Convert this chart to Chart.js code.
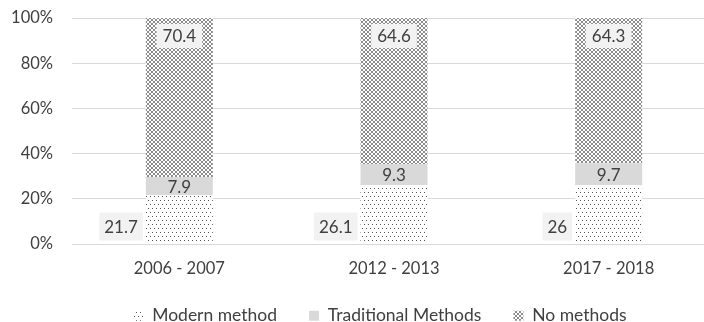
<!DOCTYPE html>
<html>
<head>
<meta charset="utf-8">
<script src="https://cdn.jsdelivr.net/npm/chart.js@4/dist/chart.umd.min.js"></script>
<style>
html,body{margin:0;padding:0;background:#fff;overflow:hidden;}
#wrap{position:absolute;left:0;top:0;width:760px;height:322px;}
</style>
</head>
<body>
<div id="wrap"><canvas id="c"></canvas></div>
<script>
const categories = ['2006 - 2007', '2012 - 2013', '2017 - 2018'];
const modernMethod = [21.7, 26.1, 26];
const traditionalMethods = [7.9, 9.3, 9.7];
const noMethods = [70.4, 64.6, 64.3];
const seriesNames = ['Modern method', 'Traditional Methods', 'No methods'];
const yTicks = [0, 20, 40, 60, 80, 100];

const FONT = 'Lato';
const TEXT = '#404040';

function makePattern(w, h, pts, color) {
  const c = document.createElement('canvas');
  c.width = w; c.height = h;
  const x = c.getContext('2d');
  x.fillStyle = '#ffffff';
  x.fillRect(0, 0, w, h);
  x.fillStyle = color;
  pts.forEach(p => x.fillRect(p[0], p[1], 1, 1));
  return document.getElementById('c').getContext('2d').createPattern(c, 'repeat');
}
const dotPattern = makePattern(4, 8, [[0,0],[2,4]], '#555555');
const crossPattern = makePattern(4, 4, [[0,0],[1,1],[2,2],[3,3],[3,0],[2,1],[1,2],[0,3]], '#8c8c8c');

const labelPlugin = {
  id: 'valueLabels',
  afterLayout(chart) {
    const lg = chart.legend;
    if (lg) { lg.left += 22; lg.right += 22; lg.top -= 18; lg.bottom = chart.height; }
  },
  afterDatasetsDraw(chart) {
    const ctx = chart.ctx;
    ctx.save();
    ctx.font = '17px ' + FONT;
    ctx.textAlign = 'center';
    ctx.textBaseline = 'middle';
    chart.data.datasets.forEach((ds, di) => {
      const meta = chart.getDatasetMeta(di);
      meta.data.forEach((el, i) => {
        const txt = String(ds.data[i]);
        const tw = ctx.measureText(txt).width;
        const p = el.getProps(['x', 'y', 'base', 'width'], true);
        let cx, cy, bw, bh = 28, bg = '#f2f2f2';
        if (di === 0) {
          bw = tw + 10;
          cx = p.x - p.width / 2 - 3 - bw / 2;
          cy = p.base - 17;
        } else if (di === 1) {
          cx = p.x; cy = (p.y + p.base) / 2; bw = 0;
        } else {
          bw = tw + 12;
          cx = p.x; cy = p.y + 18;
          bh = 24;
        }
        if (bw > 0) {
          ctx.fillStyle = bg;
          ctx.fillRect(cx - bw / 2, cy - bh / 2, bw, bh);
        }
        ctx.fillStyle = TEXT;
        ctx.fillText(txt, cx, cy + 1);
      });
    });
    ctx.restore();
  }
};

new Chart(document.getElementById('c'), {
  type: 'bar',
  data: {
    labels: categories,
    datasets: [
      { label: seriesNames[0], data: modernMethod, backgroundColor: dotPattern, borderWidth: 0 },
      { label: seriesNames[1], data: traditionalMethods, backgroundColor: '#d9d9d9', borderWidth: 0 },
      { label: seriesNames[2], data: noMethods, backgroundColor: crossPattern, borderWidth: 0 }
    ]
  },
  options: {
    responsive: true,
    maintainAspectRatio: false,
    animation: false,
    datasets: { bar: { categoryPercentage: 1, barPercentage: 0.312 } },
    layout: { padding: { top: 18, right: 44, left: 0, bottom: 0 } },
    plugins: {
      legend: {
        position: 'bottom',
        maxHeight: 29,
        labels: {
          font: { family: FONT, size: 17.5 },
          color: TEXT,
          boxWidth: 10,
          boxHeight: 10,
          padding: 32
        }
      },
      tooltip: { enabled: false }
    },
    scales: {
      x: {
        stacked: true,
        afterFit(s) { s.height = 49; s.paddingLeft = 0; s.paddingRight = 0; },
        grid: { display: false, drawTicks: false },
        border: { display: false },
        ticks: { font: { family: FONT, size: 16.5 }, color: TEXT, padding: 15 }
      },
      y: {
        stacked: true,
        min: 0, max: 100,
        afterFit(s) { s.width = 72; s.paddingTop = 0; s.paddingBottom = 0; },
        afterBuildTicks(s) { s.ticks = yTicks.map(v => ({ value: v })); },
        grid: { color: '#d9d9d9', lineWidth: 1, drawTicks: false },
        border: { display: false },
        ticks: { font: { family: FONT, size: 16.5 }, color: TEXT, padding: 19, callback: v => v + '%' }
      }
    }
  },
  plugins: [labelPlugin]
});
</script>
</body>
</html>
